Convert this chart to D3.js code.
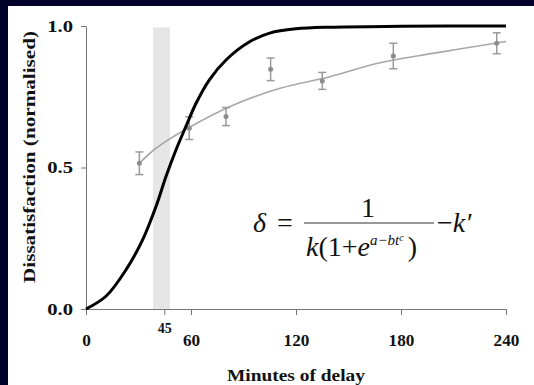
<!DOCTYPE html>
<html>
<head>
<meta charset="utf-8">
<script src="https://cdn.jsdelivr.net/npm/d3@7"></script>
<style>
  body { margin: 0; background: #02012a; }
  svg { display: block; }
  svg text { font-family: 'Liberation Serif', 'Times New Roman', serif; }
  .tick text { font-weight: bold; font-size: 17px; fill: #111; }
  .label { font-weight: bold; font-size: 17px; fill: #111; }
  .eq text { font-family: 'Liberation Serif', 'Times New Roman', serif; font-size: 28px; fill: #111; }
</style>
</head>
<body>
<svg width="534" height="385"></svg>
<script>
// fitted model curve (black)
const modelMinutes = [0, 11.4, 22.9, 32.4, 40, 45.7, 51.4, 57.1, 62.9, 70.5, 80, 93.7, 105, 120, 139, 180, 240]
const modelValues = [0, 0.045, 0.139, 0.245, 0.362, 0.468, 0.562, 0.645, 0.727, 0.81, 0.88, 0.945, 0.975, 0.99, 0.996, 0.999, 1.0]

// observed points (grey) with error bars
const obsMinutes = [30.5, 59, 80, 105.5, 135, 175.6, 234.7]
const obsValues = [0.515, 0.639, 0.68, 0.847, 0.806, 0.894, 0.939]
const obsErrors = [0.04, 0.04, 0.032, 0.04, 0.03, 0.045, 0.037]

// grey trend line through observations
const trendMinutes = [30.5, 40, 57.1, 84, 110.9, 139.4, 168, 200, 240]
const trendValues = [0.515, 0.568, 0.635, 0.72, 0.78, 0.821, 0.87, 0.905, 0.945]

const xTicks = [0, 60, 120, 180, 240]
const yTicks = [0.0, 0.5, 1.0]
const bandRange = [38.3, 48]
const markMinute = 45

const svg = d3.select('svg')

// white plotting panel inside the navy frame
svg.append('rect')
    .attr('x', 8).attr('y', 6)
    .attr('width', 534 - 8).attr('height', 385 - 6)
    .attr('fill', '#fff')

const x = d3.scaleLinear().domain([0, 240]).range([86, 506])
const y = d3.scaleLinear().domain([0, 1]).range([309, 26])

// grey band
svg.append('rect')
    .attr('x', x(bandRange[0]))
    .attr('y', y(0.995))
    .attr('width', x(bandRange[1]) - x(bandRange[0]))
    .attr('height', y(0) - y(0.995))
    .attr('fill', '#e6e6e6')

// axes
const xAxis = svg.append('g')
    .attr('transform', `translate(0, ${y(0)})`)
    .call(d3.axisBottom(x).tickValues(xTicks).tickSize(6).tickPadding(19).tickSizeOuter(0))
const yAxis = svg.append('g')
    .attr('transform', `translate(${x(0)}, 0)`)
    .call(d3.axisLeft(y).tickValues(yTicks).tickFormat(d3.format('.1f')).tickSize(5).tickPadding(8).tickSizeOuter(0))

svg.selectAll('.domain, .tick line').attr('stroke', '#777').attr('stroke-width', 1)
svg.selectAll('.tick text').attr('textLength', function() { return this.textContent.length * 8.6 })
    .attr('lengthAdjust', 'spacingAndGlyphs')

// extra 45 tick
xAxis.append('line')
    .attr('x1', x(markMinute)).attr('x2', x(markMinute))
    .attr('y1', 0).attr('y2', 6)
    .attr('stroke', '#777')
xAxis.append('text')
    .attr('x', x(markMinute))
    .attr('y', 24)
    .attr('text-anchor', 'middle')
    .attr('font-weight', 'bold')
    .attr('font-size', 14)
    .attr('fill', '#111')
    .text(markMinute)

const smooth = d3.curveCatmullRom.alpha(0.5)

// grey trend line
const trend = trendMinutes.map((m, i) => [m, trendValues[i]])
svg.append('path')
    .datum(trend)
    .attr('fill', 'none')
    .attr('stroke', '#a8a8a8')
    .attr('stroke-width', 1.6)
    .attr('d', d3.line().x(d => x(d[0])).y(d => y(d[1])).curve(smooth))

// error bars and points
const obs = obsMinutes.map((m, i) => ({ m: m, v: obsValues[i], e: obsErrors[i] }))
const eb = svg.append('g').attr('stroke', '#9a9a9a').attr('stroke-width', 1.5)
eb.selectAll('.bar').data(obs).enter().append('line')
    .attr('x1', d => x(d.m)).attr('x2', d => x(d.m))
    .attr('y1', d => y(d.v - d.e)).attr('y2', d => y(d.v + d.e))
eb.selectAll('.capT').data(obs).enter().append('line')
    .attr('x1', d => x(d.m) - 4).attr('x2', d => x(d.m) + 4)
    .attr('y1', d => y(d.v + d.e)).attr('y2', d => y(d.v + d.e))
eb.selectAll('.capB').data(obs).enter().append('line')
    .attr('x1', d => x(d.m) - 4).attr('x2', d => x(d.m) + 4)
    .attr('y1', d => y(d.v - d.e)).attr('y2', d => y(d.v - d.e))
svg.selectAll('.pt').data(obs).enter().append('circle')
    .attr('cx', d => x(d.m)).attr('cy', d => y(d.v))
    .attr('r', 2.5)
    .attr('fill', '#8c8c8c')

// black model curve
const model = modelMinutes.map((m, i) => [m, modelValues[i]])
svg.append('path')
    .datum(model)
    .attr('fill', 'none')
    .attr('stroke', '#000')
    .attr('stroke-width', 3)
    .attr('d', d3.line().x(d => x(d[0])).y(d => y(d[1])).curve(smooth))

// axis titles
svg.append('text')
    .attr('class', 'label')
    .attr('x', 296)
    .attr('y', 381)
    .attr('text-anchor', 'middle')
    .attr('textLength', 138)
    .attr('lengthAdjust', 'spacingAndGlyphs')
    .text('Minutes of delay')
svg.append('text')
    .attr('class', 'label')
    .attr('transform', 'translate(35, 157) rotate(-90)')
    .attr('text-anchor', 'middle')
    .attr('textLength', 252)
    .attr('lengthAdjust', 'spacingAndGlyphs')
    .text('Dissatisfaction (normalised)')

// equation
const eq = svg.append('g').attr('class', 'eq')
eq.append('text').attr('x', 253).attr('y', 232).attr('font-style', 'italic').text('δ')
eq.append('text').attr('x', 277).attr('y', 232).text('=')
eq.append('line')
    .attr('x1', 304).attr('x2', 434).attr('y1', 223).attr('y2', 223)
    .attr('stroke', '#333').attr('stroke-width', 1.2)
eq.append('text').attr('x', 368).attr('y', 217).attr('text-anchor', 'middle').text('1')
const den = eq.append('text').attr('x', 306).attr('y', 256)
den.append('tspan').attr('font-style', 'italic').text('k')
den.append('tspan').text('(1+')
den.append('tspan').attr('font-style', 'italic').text('e')
den.append('tspan').attr('font-style', 'italic').attr('font-size', 15).attr('dy', -11).text('a−bt')
den.append('tspan').attr('font-style', 'italic').attr('font-size', 10).attr('dy', -4).text('c')
den.append('tspan').attr('dy', 15).attr('dx', 4).text(')')
const tail = eq.append('text').attr('x', 437).attr('y', 232)
tail.append('tspan').text('−')
tail.append('tspan').attr('font-style', 'italic').text('k′')
</script>
</body>
</html>
